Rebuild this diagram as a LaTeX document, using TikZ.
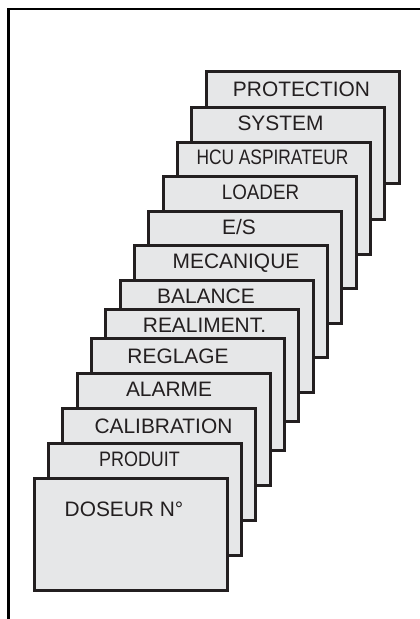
\documentclass[tikz,border=0pt]{standalone}
\usepackage{fontspec}
\setmainfont{Liberation Sans}
\usepackage{graphicx}
\definecolor{cardfill}{HTML}{E6E7E8}
\definecolor{ink}{HTML}{231F20}
\newcommand\narrowtext[2]{\scalebox{#1}[1]{#2}}

\begin{document}
\begin{tikzpicture}[x=1pt,y=-1pt,
  card/.style={draw=ink, fill=cardfill, line width=3pt,
    minimum width=193pt, minimum height=112pt,
    anchor=north west, inner sep=0pt, outer sep=0pt},
  cardtext/.style={text=ink, font=\fontsize{20.9}{24}\selectfont, inner sep=0pt}]
\useasboundingbox (0,0) rectangle (420,619);

% open frame: only the top and left sides
\coordinate (frameBL) at (8.5,619);
\coordinate (frameTL) at (8.5,9);
\coordinate (frameTR) at (420,9);
\draw[line width=2.2pt, black] (frameBL) -- (frameTL) -- (frameTR);

% stacked menu cards, back to front
\node[card] (c0)  at (206.0, 71) {};
\node[cardtext] (l0) at (301.5, 89.5) {PROTECTION};

\node[card] (c1)  at (191.7,107) {};
\node[cardtext] (l1) at (280.5,123) {SYSTEM};

\node[card] (c2)  at (177.3,142) {};
\node[cardtext] (l2) at (272.5,157.5) {\narrowtext{0.83}{HCU ASPIRATEUR}};

\node[card] (c3)  at (163.0,176) {};
\node[cardtext] (l3) at (260.5,192.5) {\narrowtext{0.90}{LOADER}};

\node[card] (c4)  at (148.7,211) {};
\node[cardtext] (l4) at (239,227.5) {E/S};

\node[card] (c5)  at (134.3,245) {};
\node[cardtext] (l5) at (236,263.5) {MECANIQUE};

\node[card] (c6)  at (120.0,280) {};
\node[cardtext] (l6) at (206,296.5) {BALANCE};

\node[card] (c7)  at (105.7,309) {};
\node[cardtext] (l7) at (204.5,325.5) {REALIMENT.};

\node[card] (c8)  at (91.3,338) {};
\node[cardtext] (l8) at (178,356) {REGLAGE};

\node[card] (c9)  at (77.0,373) {};
\node[cardtext] (l9) at (169,389.5) {ALARME};

\node[card] (c10) at (62.7,408) {};
\node[cardtext] (l10) at (163.5,426) {CALIBRATION};

\node[card] (c11) at (48.3,443) {};
\node[cardtext] (l11) at (139.5,459.5) {\narrowtext{0.86}{PRODUIT}};

\node[card] (c12) at (34.0,478) {};
\node[cardtext] (l12) at (124,509.5) {DOSEUR N°};
\end{tikzpicture}
\end{document}
